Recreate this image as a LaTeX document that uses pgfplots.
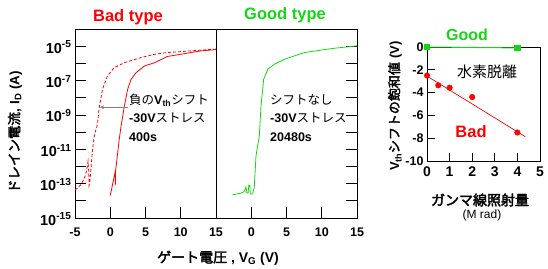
\documentclass[border=0pt]{standalone}
\usepackage{pgfplots}
\usepackage{pgfplotstable}
\pgfplotsset{compat=1.18}
\usetikzlibrary{arrows.meta}
\usepackage{fontspec}
\setmainfont{Liberation Sans}
\newfontfamily\cjk{Noto Sans CJK JP}
\newfontfamily\cjkb[FakeBold=2.5]{Noto Sans CJK JP}
\definecolor{gg}{RGB}{20,215,20}
\definecolor{rr}{RGB}{255,0,0}
\newcommand{\fs}[1]{\fontsize{#1}{#1}\selectfont}

% drain current: v = gate voltage (V), e = log10 of drain current (A)
\pgfplotstableread{
v e
-5.0 -13.36
-4.6 -13.25
-4.2 -13.07
-3.8 -12.8
-3.5 -12.5
-3.25 -12.0
-3.15 -11.7
-3.05 -12.3
-3.0 -13.1
-2.9 -12.9
-2.75 -12.2
-2.55 -11.2
-2.3 -10.3
-1.8 -9.5
-1.57 -8.58
-1.1 -7.51
-0.4 -6.73
0.57 -6.25
2.0 -5.96
4.4 -5.66
6.3 -5.47
8.1 -5.37
12.9 -5.23
15 -5.17
}\baddashed

\pgfplotstableread{
v e
0.0 -13.7
0.3 -13.1
0.5 -12.7
0.68 -12.35
0.7 -12.7
0.72 -13.1
0.75 -12.3
1.0 -11.4
1.25 -10.5
1.52 -9.7
2.0 -8.49
2.47 -7.51
2.95 -6.93
3.67 -6.54
4.86 -6.15
6.3 -5.96
8.1 -5.6
12.9 -5.27
15 -5.2
}\badsolid

\pgfplotstableread{
v e
-2.67 -13.65
-2.0 -13.6
-1.47 -13.55
-1.0 -13.46
-0.85 -13.3
-0.76 -13.2
-0.6 -13.55
-0.45 -13.55
-0.35 -13.1
-0.2 -13.1
-0.14 -13.6
0.19 -13.6
0.43 -13.2
0.67 -11.4
0.9 -10.8
1.14 -10.25
1.38 -8.5
1.76 -6.93
2.33 -6.35
3.29 -6.05
4.7 -5.76
7.57 -5.37
11.6 -5.13
15 -4.98
}\goodcurve

\pgfplotsset{
 myax/.style={scale only axis, tick align=inside, major tick length=11pt, minor tick length=11pt,
   axis line style={line width=0.8pt}, every tick/.style={black,line width=0.8pt},
   ticklabel style={font=\fs{12.5}\bfseries}, anchor=south west},
}

\begin{document}
\begin{tikzpicture}
\useasboundingbox (0pt,0pt) rectangle (548pt,268pt);
% Bad type
\begin{axis}[myax, at={(75pt,50pt)}, width=141pt, height=189pt,
  ymin=-15, ymax=-4, xmin=-5, xmax=15,
  ytick={-15,-13,-11,-9,-7,-5},
  minor ytick={-14,-12,-10,-8,-6},
  xtick pos=bottom,
  xtick={-5,0,5,10,15}, xticklabels={-5,0,5,10,15},
  xticklabel style={yshift=-6pt},
  yticklabel style={font=\fs{14.5}\bfseries, yshift=-1pt},
  ytick pos=left,
  yticklabels={10\textsuperscript{-15},10\textsuperscript{-13},10\textsuperscript{-11},10\textsuperscript{-9},10\textsuperscript{-7},10\textsuperscript{-5}}]
\addplot[rr, line width=0.8pt, dash pattern=on 3pt off 2pt] table[x=v, y=e] {\baddashed};
\addplot[rr, line width=0.8pt] table[x=v, y=e] {\badsolid};
\draw[black!50, line width=0.8pt, -{Stealth[length=4pt,width=4pt]}] (axis cs:2.55,-8.55) -- (axis cs:-1.45,-8.55);
\end{axis}
% Good type
\begin{axis}[myax, at={(216pt,50pt)}, width=141pt, height=189pt,
  ymin=-15, ymax=-4, xmin=-5, xmax=15,
  ytick={-15,-13,-11,-9,-7,-5},
  minor ytick={-14,-12,-10,-8,-6},
  xtick pos=bottom,
  xtick={0,5,10,15}, xticklabels={0,5,10,15},
  xticklabel style={yshift=-6pt},
  ytick pos=right, yticklabels={}]
\addplot[gg, line width=0.8pt] table[x=v, y=e] {\goodcurve};
\end{axis}
% Vth shift vs dose
\begin{axis}[myax, at={(427pt,107pt)}, width=113pt, height=114pt,
  major tick length=8pt,
  xmin=0, xmax=5, ymin=-10, ymax=0, clip=false,
  xtick={0,1,2,3,4,5}, xticklabels={0,1,2,3,4,5},
  xticklabel style={font=\fs{14}\bfseries, yshift=-2pt},
  ytick={-10,-8,-6,-4,-2,0}, yticklabels={-10,-8,-6,-4,-2,0},
  xtick pos=bottom, ytick pos=left]
\addplot[gg, line width=1pt, mark=square*, mark size=2.6pt] coordinates {(0,0) (4,-0.08)};
\addplot[rr, line width=0.7pt] coordinates {(0,-2.55) (4.35,-7.87)};
\addplot[rr, only marks, mark=*, mark size=2.8pt] coordinates {(0,-2.5) (0.5,-3.36) (1,-3.57) (2,-4.39) (4,-7.5)};
\end{axis}

% titles
\node[rr, font=\fs{16.5}\bfseries] at (128pt,251pt) {Bad type};
\node[gg, font=\fs{16.5}\bfseries] at (285pt,253pt) {Good type};
% annotations left
\node[anchor=west, font=\fs{12.5}, inner sep=0pt] at (129pt,168pt) {{\cjk 負の}\textbf{V\textsubscript{th}}{\cjk シフト}};
\node[anchor=west, font=\fs{12.5}, inner sep=0pt] at (129pt,150pt) {\textbf{-30V}{\cjk ストレス}};
\node[anchor=west, font=\fs{12.5}\bfseries, inner sep=0pt] at (129pt,131pt) {400s};
% annotations right
\node[anchor=west, font=\fs{12.5}, inner sep=0pt] at (270pt,168pt) {{\cjk シフトなし}};
\node[anchor=west, font=\fs{12.5}, inner sep=0pt] at (270pt,150pt) {\textbf{-30V}{\cjk ストレス}};
\node[anchor=west, font=\fs{12.5}\bfseries, inner sep=0pt] at (270pt,131pt) {20480s};
% axis labels
\node[rotate=90, font=\fs{13.5}] at (15pt,136pt) {{\cjkb ドレイン電流}\textbf{, I\textsubscript{D} (A)}};
\node[font=\fs{14}] at (218pt,10pt) {{\cjkb ゲート電圧}\textbf{ , V\textsubscript{G} (V)}};
\node[rotate=90, font=\fs{13}] at (395pt,162pt) {\textbf{V\textsubscript{th}}{\cjkb シフトの飽和値}\textbf{ (V)}};
\node[font=\fs{14}] at (480pt,68pt) {{\cjkb ガンマ線照射量}};
\node[font=\fs{12}] at (482pt,53pt) {(M rad)};
% right panel texts
\node[gg, font=\fs{16}\bfseries] at (467pt,233pt) {Good};
\node[rr, font=\fs{16.5}\bfseries] at (471pt,136pt) {Bad};
\node[font=\fs{15}] at (487pt,196pt) {{\cjk 水素脱離}};
\end{tikzpicture}
\end{document}
